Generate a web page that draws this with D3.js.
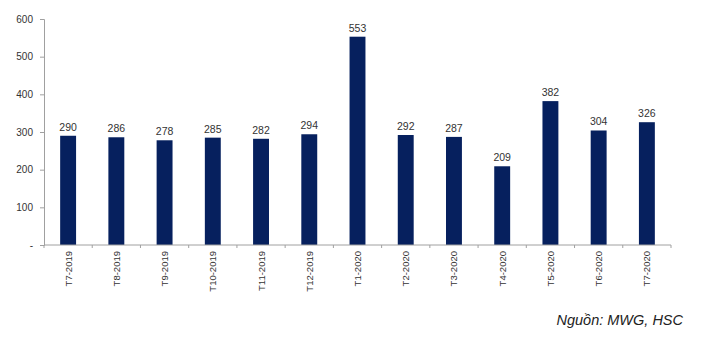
<!DOCTYPE html>
<html>
<head>
<meta charset="utf-8">
<script src="https://cdnjs.cloudflare.com/ajax/libs/d3/7.8.5/d3.min.js"></script>
<style>
  body { margin: 0; background: #fff; }
  svg { display: block; font-family: "Liberation Sans", Arial, sans-serif; }
</style>
</head>
<body>
<div id="chart"></div>
<script>
const width = 709;
const height = 338;

// monthly values
const months = ['T7-2019', 'T8-2019', 'T9-2019', 'T10-2019', 'T11-2019', 'T12-2019',
  'T1-2020', 'T2-2020', 'T3-2020', 'T4-2020', 'T5-2020', 'T6-2020', 'T7-2020'];
const values = [290, 286, 278, 285, 282, 294, 553, 292, 287, 209, 382, 304, 326];
const yTicks = [0, 100, 200, 300, 400, 500, 600];
const sourceNote = 'Nguồn: MWG, HSC';

const margin = { top: 19, right: 38, bottom: 93, left: 44 };

const svg = d3.select('#chart')
  .append('svg')
  .attr('width', width)
  .attr('height', height);

const x = d3.scaleBand()
  .domain(months)
  .range([margin.left, width - margin.right])
  .paddingInner(0.67)
  .paddingOuter(0.335);

const y = d3.scaleLinear()
  .domain([0, 600])
  .range([height - margin.bottom, margin.top]);

// y axis
const yAxis = svg.append('g')
  .attr('transform', `translate(${margin.left},0)`)
  .call(d3.axisLeft(y).tickValues(yTicks).tickSize(4).tickPadding(7)
    .tickFormat(d => (d === 0 ? '-' : d)));
yAxis.select('.domain').attr('stroke', '#a0a0a0');
yAxis.selectAll('.tick line').attr('stroke', '#a0a0a0');
yAxis.selectAll('text').attr('fill', '#333').style('font-size', '10px');

// bars
svg.append('g')
  .selectAll('rect')
  .data(values)
  .enter()
  .append('rect')
  .attr('x', (d, i) => x(months[i]))
  .attr('y', d => y(d))
  .attr('width', x.bandwidth())
  .attr('height', d => y(0) - y(d))
  .attr('fill', '#06205e');

// value labels
svg.append('g')
  .selectAll('text')
  .data(values)
  .enter()
  .append('text')
  .attr('x', (d, i) => x(months[i]) + x.bandwidth() / 2)
  .attr('y', d => y(d) - 5)
  .attr('text-anchor', 'middle')
  .attr('fill', '#333')
  .style('font-size', '10.5px')
  .text(d => d);

// x axis, ticks between the bands
const step = x.step();
const xAxis = svg.append('g')
  .attr('transform', `translate(0,${y(0)})`);
xAxis.append('line')
  .attr('x1', margin.left)
  .attr('x2', width - margin.right)
  .attr('stroke', '#a0a0a0');
xAxis.selectAll('line.tk')
  .data(d3.range(months.length + 1))
  .enter()
  .append('line')
  .attr('class', 'tk')
  .attr('x1', i => margin.left + i * step)
  .attr('x2', i => margin.left + i * step)
  .attr('y1', 0)
  .attr('y2', 3)
  .attr('stroke', '#a0a0a0');
xAxis.selectAll('text')
  .data(months)
  .enter()
  .append('text')
  .attr('transform', d => `translate(${x(d) + x.bandwidth() / 2 + 3.5},6) rotate(-90)`)
  .attr('text-anchor', 'end')
  .attr('fill', '#333')
  .style('font-size', '9.5px')
  .text(d => d);

// source note
svg.append('text')
  .attr('x', 683)
  .attr('y', 325)
  .attr('text-anchor', 'end')
  .attr('fill', '#222')
  .style('font-size', '14.5px')
  .style('font-style', 'italic')
  .text(sourceNote);
</script>
</body>
</html>
